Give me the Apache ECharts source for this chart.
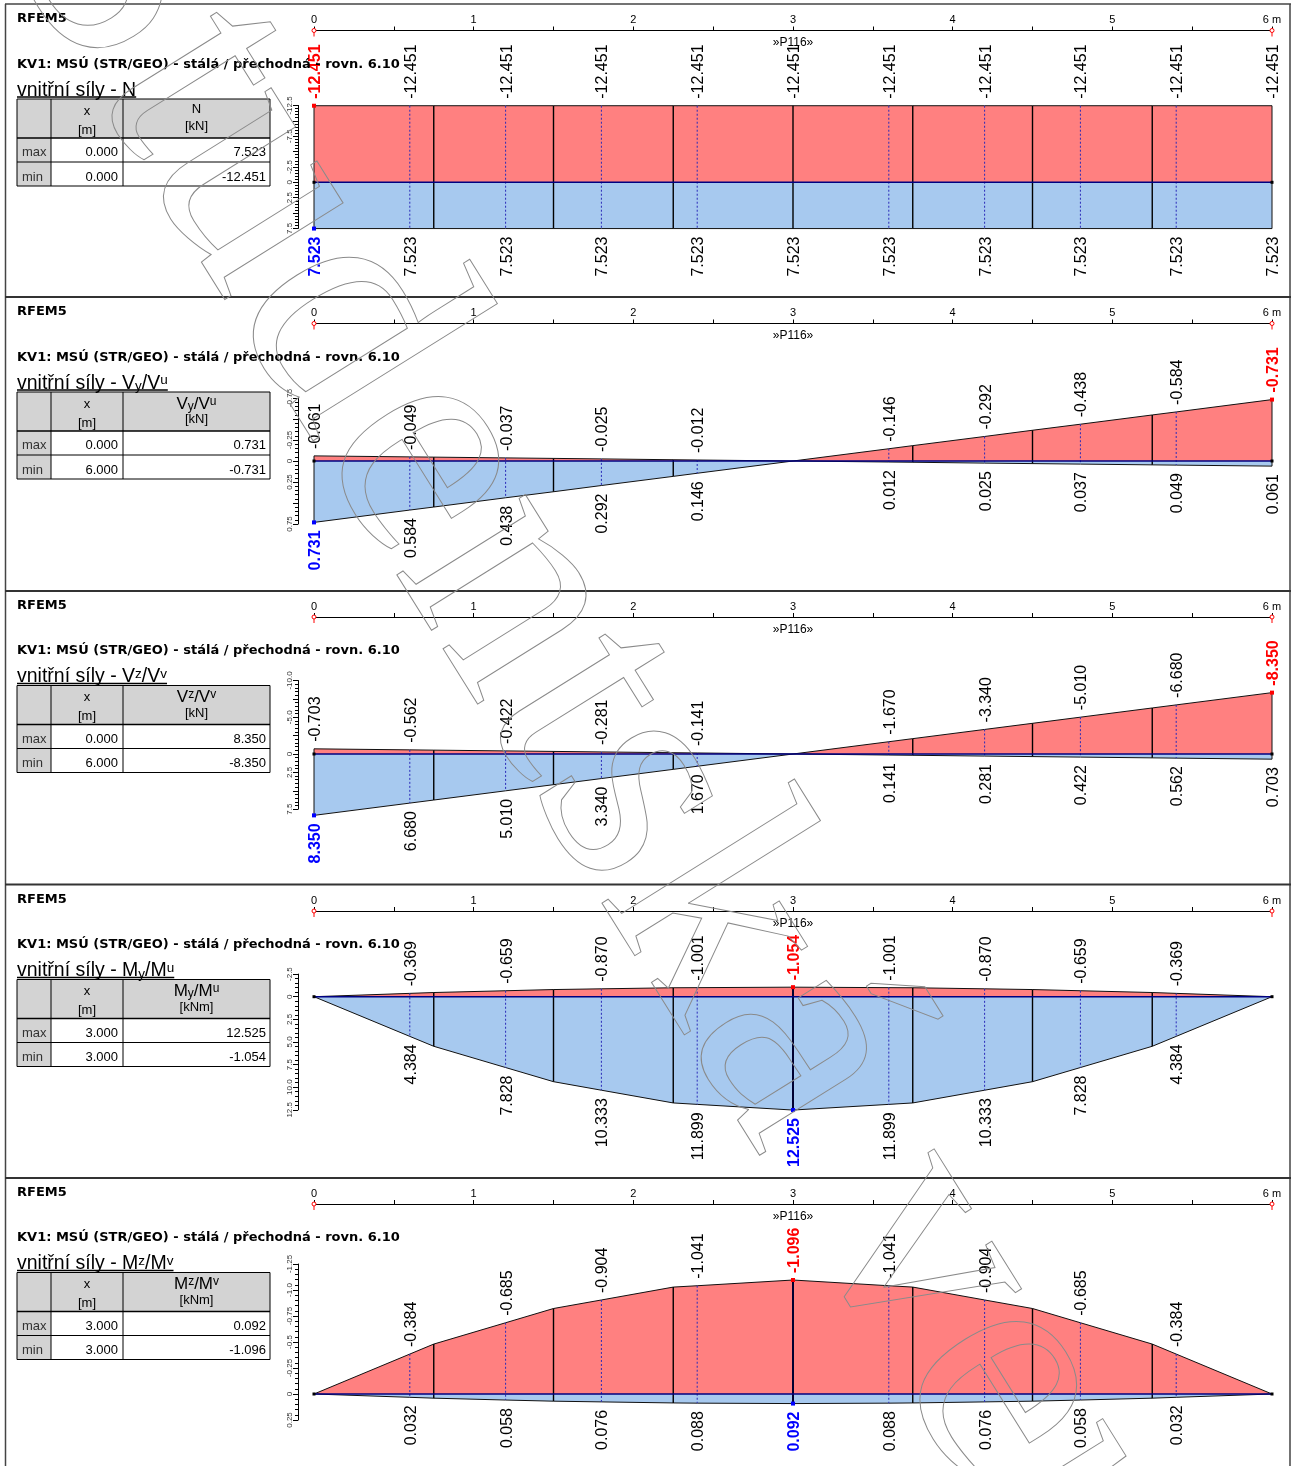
<!DOCTYPE html>
<html lang="cs">
<head>
<meta charset="utf-8">
<title>RFEM5 – vnitřní síly</title>
<script src="https://cdn.jsdelivr.net/npm/echarts@6/dist/echarts.min.js"></script>
<style>
  html, body { margin: 0; padding: 0; background: #fff; }
  #chart { width: 1297px; height: 1466px; }
</style>
</head>
<body>
<div id="chart"></div>
<script>
// Result stations along the member [m] and FE node positions [m]
const stations = [0, 0.6, 1.2, 1.8, 2.4, 3.0, 3.6, 4.2, 4.8, 5.4, 6.0];
const nodes = [0.75, 1.5, 2.25, 3.0, 3.75, 4.5, 5.25];
const rulerLabels = ['0', '1', '2', '3', '4', '5', '6 m'];

// N [kN]
const nMin = [-12.451, -12.451, -12.451, -12.451, -12.451, -12.451, -12.451, -12.451, -12.451, -12.451, -12.451];
const nMax = [7.523, 7.523, 7.523, 7.523, 7.523, 7.523, 7.523, 7.523, 7.523, 7.523, 7.523];
const nNodeMin = [-12.451, -12.451, -12.451, -12.451, -12.451, -12.451, -12.451];
const nNodeMax = [7.523, 7.523, 7.523, 7.523, 7.523, 7.523, 7.523];
const nScaleLabels = ['-12.5', '-7.5', '-2.5', '0', '2.5', '7.5'];

// Vy/Vu [kN]
const vyMin = [-0.061, -0.049, -0.037, -0.025, -0.012, 0, -0.146, -0.292, -0.438, -0.584, -0.731];
const vyMax = [0.731, 0.584, 0.438, 0.292, 0.146, 0, 0.012, 0.025, 0.037, 0.049, 0.061];
const vyNodeMin = [-0.046, -0.031, -0.015, 0, -0.183, -0.366, -0.548];
const vyNodeMax = [0.548, 0.366, 0.183, 0, 0.015, 0.031, 0.046];
const vyScaleLabels = ['-0.75', '-0.25', '0', '0.25', '0.75'];

// Vz/Vv [kN]
const vzMin = [-0.703, -0.562, -0.422, -0.281, -0.141, 0, -1.670, -3.340, -5.010, -6.680, -8.350];
const vzMax = [8.350, 6.680, 5.010, 3.340, 1.670, 0, 0.141, 0.281, 0.422, 0.562, 0.703];
const vzNodeMin = [-0.527, -0.352, -0.176, 0, -2.088, -4.175, -6.263];
const vzNodeMax = [6.263, 4.175, 2.088, 0, 0.176, 0.352, 0.527];
const vzScaleLabels = ['-10.0', '-5.0', '0', '2.5', '7.5'];

// My/Mu [kNm]
const myMin = [0, -0.369, -0.659, -0.870, -1.001, -1.054, -1.001, -0.870, -0.659, -0.369, 0];
const myMax = [0, 4.384, 7.828, 10.333, 11.899, 12.525, 11.899, 10.333, 7.828, 4.384, 0];
const myNodeMin = [-0.461, -0.790, -0.988, -1.054, -0.988, -0.790, -0.461];
const myNodeMax = [5.48, 9.39, 11.74, 12.525, 11.74, 9.39, 5.48];
const myScaleLabels = ['-2.5', '0', '2.5', '5.0', '7.5', '10.0', '12.5'];

// Mz/Mv [kNm]
const mzMin = [0, -0.384, -0.685, -0.904, -1.041, -1.096, -1.041, -0.904, -0.685, -0.384, 0];
const mzMax = [0, 0.032, 0.058, 0.076, 0.088, 0.092, 0.088, 0.076, 0.058, 0.032, 0];
const mzNodeMin = [-0.480, -0.822, -1.028, -1.096, -1.028, -0.822, -0.480];
const mzNodeMax = [0.040, 0.069, 0.086, 0.092, 0.086, 0.069, 0.040];
const mzScaleLabels = ['-1.25', '-1.0', '-0.75', '-0.5', '-0.25', '0', '0.25'];

// Summary table: position and value of the extremes
const tableMaxX = ['0.000', '0.000', '0.000', '3.000', '3.000'];
const tableMax = ['7.523', '0.731', '8.350', '12.525', '0.092'];
const tableMinX = ['0.000', '6.000', '6.000', '3.000', '3.000'];
const tableMin = ['-12.451', '-0.731', '-8.350', '-1.054', '-1.096'];
const tableUnits = ['[kN]', '[kN]', '[kN]', '[kNm]', '[kNm]'];
// component names: [text, 0 = normal, 1 = low index, 2 = high index]
const componentNames = [
  [['N', 0]],
  [['V', 0], ['y', 1], ['/V', 0], ['u', 2]],
  [['V', 0], ['z', 2], ['/V', 0], ['v', 2]],
  [['M', 0], ['y', 1], ['/M', 0], ['u', 2]],
  [['M', 0], ['z', 2], ['/M', 0], ['v', 2]]
];

const caseTitle = 'KV1: MSÚ (STR/GEO) - stálá / přechodná - rovn. 6.10';
const memberName = '»P116»';
const watermark = 'Studentská verze';

const FONT = "'Liberation Sans', Arial, sans-serif";
const HEAD_FONT = "bold 13px 'DejaVu Sans', Verdana, sans-serif";
const RED_FILL = '#ff8080';
const BLUE_FILL = '#a7c9ef';

// page layout of the five diagram blocks
const layout = [
  { rulerY: 30.5, zeroY: 182.3, ppu: 6.15, sMin: -12.5, sMax: 7.5, step: 2.5 },
  { rulerY: 323.5, zeroY: 461, ppu: 84, sMin: -0.75, sMax: 0.75, step: 0.25 },
  { rulerY: 617, zeroY: 754, ppu: 7.35, sMin: -10, sMax: 7.5, step: 2.5 },
  { rulerY: 911, zeroY: 996.7, ppu: 9.05, sMin: -2.5, sMax: 12.5, step: 2.5 },
  { rulerY: 1204, zeroY: 1394, ppu: 104, sMin: -1.25, sMax: 0.25, step: 0.25 }
];
const separators = [297, 591, 884.5, 1178];

const diagrams = [
  { min: nMin, max: nMax, nodeMin: nNodeMin, nodeMax: nNodeMax, scale: nScaleLabels },
  { min: vyMin, max: vyMax, nodeMin: vyNodeMin, nodeMax: vyNodeMax, scale: vyScaleLabels },
  { min: vzMin, max: vzMax, nodeMin: vzNodeMin, nodeMax: vzNodeMax, scale: vzScaleLabels },
  { min: myMin, max: myMax, nodeMin: myNodeMin, nodeMax: myNodeMax, scale: myScaleLabels },
  { min: mzMin, max: mzMax, nodeMin: mzNodeMin, nodeMax: mzNodeMax, scale: mzScaleLabels }
];

const measureCtx = document.createElement('canvas').getContext('2d');
function textWidth(str, font) { measureCtx.font = font; return measureCtx.measureText(str).width; }

function curve(values, nodeValues) {
  const pts = stations.map((x, i) => [x, values[i]]);
  nodes.forEach((x, i) => { if (!stations.includes(x)) pts.push([x, nodeValues[i]]); });
  return pts.sort((a, b) => a[0] - b[0]);
}

function txt(x, y, s, extra) {
  return {
    type: 'text', x: x, y: y, silent: true, z: 10,
    style: Object.assign({ text: s, fill: '#000', font: '13px ' + FONT, align: 'left', verticalAlign: 'middle', textAlign: 'left', textVerticalAlign: 'middle' }, extra || {})
  };
}
function seg(x1, y1, x2, y2, stroke, w) {
  return { type: 'line', silent: true, z: 9, shape: { x1, y1, x2, y2 }, style: { stroke: stroke, lineWidth: w } };
}
function richName(parts, mainSize, subSize) {
  let s = '', w = 0;
  parts.forEach(([t, k]) => {
    if (k === 0) { s += t; w += textWidth(t, mainSize + 'px ' + FONT); }
    else { s += '{' + (k === 1 ? 'lo' : 'hi') + '|' + t + '}'; w += textWidth(t, subSize + 'px ' + FONT); }
  });
  return { text: s, width: w, rich: {
    lo: { font: subSize + 'px ' + FONT, fill: '#000', verticalAlign: 'bottom' },
    hi: { font: subSize + 'px ' + FONT, fill: '#000', verticalAlign: 'top' }
  } };
}

const grids = [], xAxes = [], yAxes = [], series = [], graphics = [];

// frame and block separators
graphics.push(seg(5.5, 4, 5.5, 1466, '#444', 1.5));
graphics.push(seg(1290, 4, 1290, 1466, '#444', 1.5));
graphics.push(seg(5, 4, 1291, 4, '#444', 1.5));
separators.forEach(y => graphics.push(seg(5, y, 1291, y, '#333', 1.8)));

diagrams.forEach((d, k) => {
  const L = layout[k];
  const R = L.rulerY;
  const extMinX = parseFloat(tableMinX[k]);
  const extMaxX = parseFloat(tableMaxX[k]);

  // ---- header texts and summary table
  graphics.push(txt(17, R - 11.5, 'RFEM5', { font: HEAD_FONT }));
  graphics.push(txt(17, R + 34, caseTitle, { font: HEAD_FONT }));
  const SUB = 19.5;
  const sub = richName(componentNames[k], SUB, 13.5);
  const prefix = 'vnitřní síly - ';
  graphics.push(txt(17, R + 60, prefix + sub.text, { font: SUB + 'px ' + FONT, rich: sub.rich }));
  const ulw = textWidth(prefix, SUB + 'px ' + FONT) + sub.width;
  graphics.push(seg(17, R + 66.5, 17 + ulw, R + 66.5, '#000', 1.5));

  const T = R + 68.5;
  graphics.push({ type: 'rect', silent: true, z: 8, shape: { x: 17, y: T, width: 253, height: 39 }, style: { fill: '#d3d3d3' } });
  graphics.push({ type: 'rect', silent: true, z: 8, shape: { x: 17, y: T + 39, width: 34, height: 48 }, style: { fill: '#d3d3d3' } });
  graphics.push({ type: 'rect', silent: true, z: 9, shape: { x: 17, y: T, width: 253, height: 87 }, style: { fill: 'rgba(0,0,0,0)', stroke: '#000', lineWidth: 1 } });
  graphics.push(seg(51, T, 51, T + 87, '#000', 1));
  graphics.push(seg(123, T, 123, T + 87, '#000', 1));
  graphics.push(seg(17, T + 39, 270, T + 39, '#000', 1.6));
  graphics.push(seg(17, T + 63, 270, T + 63, '#000', 1));
  graphics.push(txt(87, T + 12, 'x', { align: 'center', textAlign: 'center' }));
  graphics.push(txt(87, T + 31, '[m]', { align: 'center', textAlign: 'center' }));
  const head = k === 0 ? richName(componentNames[k], 13, 11) : richName(componentNames[k], 17, 12);
  graphics.push(txt(196.5, T + (k === 0 ? 10 : 12), head.text, { align: 'center', textAlign: 'center', font: (k === 0 ? 13 : 17) + 'px ' + FONT, rich: head.rich }));
  graphics.push(txt(196.5, T + 27.5, tableUnits[k], { align: 'center', textAlign: 'center' }));
  graphics.push(txt(22, T + 53.5, 'max', { fill: '#333' }));
  graphics.push(txt(22, T + 78, 'min', { fill: '#333' }));
  graphics.push(txt(118, T + 53.5, tableMaxX[k], { align: 'right', textAlign: 'right' }));
  graphics.push(txt(118, T + 78, tableMinX[k], { align: 'right', textAlign: 'right' }));
  graphics.push(txt(266, T + 53.5, tableMax[k], { align: 'right', textAlign: 'right' }));
  graphics.push(txt(266, T + 78, tableMin[k], { align: 'right', textAlign: 'right' }));

  // ---- ruler along the member
  const rg = grids.length;
  grids.push({ left: 314, width: 958, top: R, height: 10, outerBoundsMode: 'none' });
  xAxes.push({
    gridIndex: rg, type: 'value', min: 0, max: 6, interval: 0.5, position: 'top',
    axisLine: { show: true, onZero: false, lineStyle: { color: '#000', width: 1 } },
    axisTick: { show: true, inside: false, length: 4, lineStyle: { color: '#000', width: 1 } },
    splitLine: { show: false },
    axisLabel: {
      margin: 5, fontSize: 11, color: '#000', fontFamily: FONT,
      formatter: v => Math.abs(v - Math.round(v)) < 1e-6 ? rulerLabels[Math.round(v)] : ''
    }
  });
  yAxes.push({ gridIndex: rg, type: 'value', min: 0, max: 1, show: false });
  series.push({
    type: 'custom', xAxisIndex: rg, yAxisIndex: rg, data: [[0, 1]], clip: false, silent: true, z: 6,
    renderItem: (params, api) => {
      const ch = [];
      const mid = api.coord([3, 1]);
      ch.push({ type: 'text', x: mid[0], y: mid[1] + 12.5, style: { text: memberName, fill: '#000', font: '12px ' + FONT, align: 'center', verticalAlign: 'middle', textAlign: 'center', textVerticalAlign: 'middle' } });
      [0, 6].forEach(x => {
        const c = api.coord([x, 1]);
        ch.push({ type: 'line', shape: { x1: c[0], y1: c[1] + 2, x2: c[0], y2: c[1] + 6 }, style: { stroke: '#ff0000', lineWidth: 1 } });
        ch.push({ type: 'circle', shape: { cx: c[0], cy: c[1], r: 2 }, style: { fill: '#fff', stroke: '#ff0000', lineWidth: 1 } });
      });
      return { type: 'group', children: ch };
    }
  });

  // ---- diagram
  const dg = grids.length;
  grids.push({ left: 314, width: 958, top: L.zeroY + L.sMin * L.ppu, height: (L.sMax - L.sMin) * L.ppu, outerBoundsMode: 'none' });
  xAxes.push({ gridIndex: dg, type: 'value', min: 0, max: 6, show: false });
  yAxes.push({
    gridIndex: dg, type: 'value', inverse: true, min: L.sMin, max: L.sMax, interval: L.step,
    position: 'left', offset: 16,
    axisLine: { show: true, onZero: false, lineStyle: { color: '#000', width: 1 } },
    axisTick: { show: true, length: 5, lineStyle: { color: '#000', width: 1 } },
    minorTick: { show: true, splitNumber: 5, length: 3, lineStyle: { color: '#000', width: 1 } },
    splitLine: { show: false }, minorSplitLine: { show: false },
    axisLabel: {
      rotate: 90, fontSize: 8, color: '#333', margin: 4, fontFamily: FONT,
      formatter: v => { const f = d.scale.find(s => Math.abs(parseFloat(s) - v) < 1e-6); return f === undefined ? '' : f; }
    }
  });

  const common = { type: 'line', xAxisIndex: dg, yAxisIndex: dg, symbol: 'none', showSymbol: false, clip: false, silent: true, z: 2,
    lineStyle: { color: '#111', width: 1 } };
  series.push(Object.assign({}, common, { data: curve(d.max, d.nodeMax), areaStyle: { color: BLUE_FILL, opacity: 1 } }));
  series.push(Object.assign({}, common, { data: curve(d.min, d.nodeMin), areaStyle: { color: RED_FILL, opacity: 1 } }));

  series.push({
    type: 'custom', xAxisIndex: dg, yAxisIndex: dg, data: [[0, 0]], clip: false, silent: true, z: 4,
    renderItem: (params, api) => {
      const ch = [];
      const line = (a, b, stroke, w, dash) => ch.push({ type: 'line', shape: { x1: a[0], y1: a[1], x2: b[0], y2: b[1] }, style: { stroke: stroke, lineWidth: w, lineDash: dash || null } });
      // result stations
      stations.forEach((x, i) => {
        if (nodes.includes(x)) return;
        const edge = x === 0 || x === 6;
        line(api.coord([x, d.min[i]]), api.coord([x, d.max[i]]), edge ? '#111' : '#2a2ab8', 1, edge ? null : [2, 2]);
      });
      // FE nodes
      nodes.forEach((x, i) => {
        const ext = x === extMinX || x === extMaxX;
        line(api.coord([x, d.nodeMin[i]]), api.coord([x, d.nodeMax[i]]), ext ? '#000030' : '#000', ext ? 2 : 1.4);
      });
      // member axis
      line(api.coord([0, 0]), api.coord([6, 0]), '#000080', 1.6);
      [0, 6].forEach(x => { const c = api.coord([x, 0]); ch.push({ type: 'rect', shape: { x: c[0] - 1.5, y: c[1] - 1.5, width: 3, height: 3 }, style: { fill: '#000' } }); });
      // extreme markers
      const iMin = stations.indexOf(extMinX), iMax = stations.indexOf(extMaxX);
      const cMin = api.coord([extMinX, d.min[iMin]]), cMax = api.coord([extMaxX, d.max[iMax]]);
      ch.push({ type: 'rect', shape: { x: cMin[0] - 2, y: cMin[1] - 2, width: 4, height: 4 }, style: { fill: '#ff0000' } });
      ch.push({ type: 'rect', shape: { x: cMax[0] - 2, y: cMax[1] - 2, width: 4, height: 4 }, style: { fill: '#0000ff' } });
      // value labels
      const label = (x, y, s, color, bold, align) => ch.push({
        type: 'text', x: x + 1.5, y: y, rotation: Math.PI / 2,
        style: { text: s, fill: color, font: (bold ? 'bold ' : '') + '16px ' + FONT, align: align, verticalAlign: 'middle', textAlign: align, textVerticalAlign: 'middle' }
      });
      stations.forEach((x, i) => {
        const lo = d.min[i], hi = d.max[i];
        if (lo !== 0) {
          const c = api.coord([x, lo]);
          const ext = x === extMinX;
          label(c[0], c[1] - 7, lo.toFixed(3), ext ? '#ff0000' : '#000', ext, 'left');
        }
        if (hi !== 0) {
          const c = api.coord([x, hi]);
          const ext = x === extMaxX;
          label(c[0], c[1] + 8, hi.toFixed(3), ext ? '#0000ff' : '#000', ext, 'right');
        }
      });
      return { type: 'group', children: ch };
    }
  });
});

// outlined licence stamp across the sheet
graphics.push({
  type: 'text', x: 68, y: -115, rotation: -58 * Math.PI / 180, silent: true, z: 100,
  style: { text: watermark, font: "330px 'Liberation Serif', 'DejaVu Serif', serif", fill: 'rgba(0,0,0,0)', stroke: '#8a8a8a', lineWidth: 1,
    align: 'left', verticalAlign: 'middle', textAlign: 'left', textVerticalAlign: 'middle' }
});

const chart = echarts.init(document.getElementById('chart'), null, { renderer: 'canvas' });
chart.setOption({
  animation: false,
  backgroundColor: '#fff',
  textStyle: { fontFamily: FONT },
  grid: grids,
  xAxis: xAxes,
  yAxis: yAxes,
  series: series,
  graphic: { elements: graphics }
});
</script>
</body>
</html>
